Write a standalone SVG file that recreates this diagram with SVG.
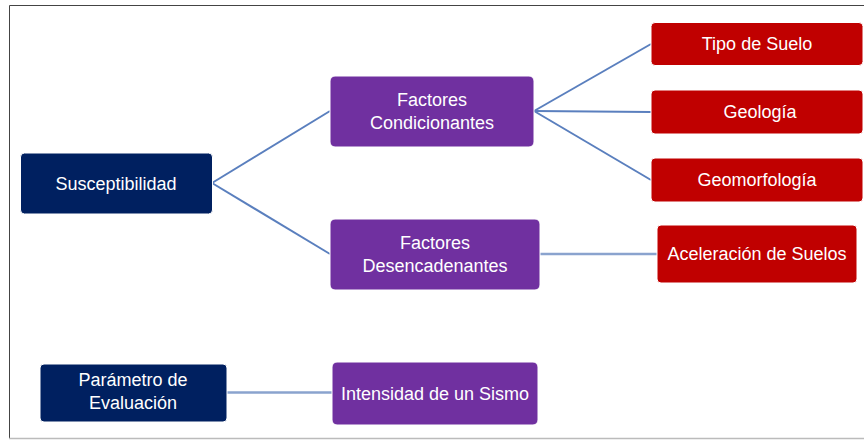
<svg xmlns="http://www.w3.org/2000/svg" width="864" height="441" viewBox="0 0 864 441">
<style>
.navy{fill:#002060}
.purple{fill:#7030A0}
.red{fill:#C00000}
.box{stroke:#ffffff;stroke-width:1}
text{font-family:"Liberation Sans",Arial,sans-serif;font-size:18px;fill:#ffffff;text-anchor:middle}
.c{stroke:#5A7FBE;stroke-width:2;fill:none}
.h{stroke:#8AA3CE;stroke-width:2.5;fill:none}
</style>
<rect x="0" y="0" width="864" height="441" fill="#ffffff"/>
<path d="M864 5.5 H9.5 V438.5 H864" fill="none" stroke="#444444" stroke-width="1"/>
<line x1="9" y1="438.5" x2="864" y2="438.5" stroke="#bbbbbb" stroke-width="1.5"/>
<g id="connectors">
<line class="c" x1="212" y1="183" x2="330" y2="111"/>
<line class="c" x1="212" y1="183" x2="330" y2="254"/>
<line class="c" x1="534" y1="111" x2="651" y2="44"/>
<line class="c" x1="534" y1="111" x2="651" y2="112"/>
<line class="c" x1="534" y1="111" x2="651" y2="180"/>
<line class="h" x1="540" y1="254" x2="657" y2="254"/>
<line class="h" x1="227" y1="392.5" x2="332" y2="392.5"/>
</g>
<g id="susceptibilidad">
<rect class="navy box" x="20.5" y="153" width="192" height="61" rx="4"/>
<text x="116" y="190">Susceptibilidad</text>
</g>
<g id="factores-condicionantes">
<rect class="purple box" x="330" y="76" width="204" height="71" rx="5"/>
<text x="432" y="106">Factores</text>
<text x="432" y="129">Condicionantes</text>
</g>
<g id="factores-desencadenantes">
<rect class="purple box" x="330" y="219" width="210" height="71" rx="5"/>
<text x="435" y="249">Factores</text>
<text x="435" y="272">Desencadenantes</text>
</g>
<g id="tipo-de-suelo">
<rect class="red box" x="651" y="22.5" width="212" height="43" rx="4"/>
<text x="757" y="50">Tipo de Suelo</text>
</g>
<g id="geologia">
<rect class="red box" x="651" y="90" width="212" height="44" rx="4"/>
<text x="760" y="118">Geología</text>
</g>
<g id="geomorfologia">
<rect class="red box" x="651" y="158" width="212" height="44" rx="4"/>
<text x="757" y="186">Geomorfología</text>
</g>
<g id="aceleracion-de-suelos">
<rect class="red box" x="657" y="225" width="200" height="58" rx="4"/>
<text x="757" y="260">Aceleración de Suelos</text>
</g>
<g id="parametro-de-evaluacion">
<rect class="navy box" x="40" y="364" width="187" height="58" rx="4"/>
<text x="133" y="386">Parámetro de</text>
<text x="133" y="409">Evaluación</text>
</g>
<g id="intensidad-de-un-sismo">
<rect class="purple box" x="332" y="362" width="206" height="63" rx="5"/>
<text x="435" y="400">Intensidad de un Sismo</text>
</g>
</svg>
